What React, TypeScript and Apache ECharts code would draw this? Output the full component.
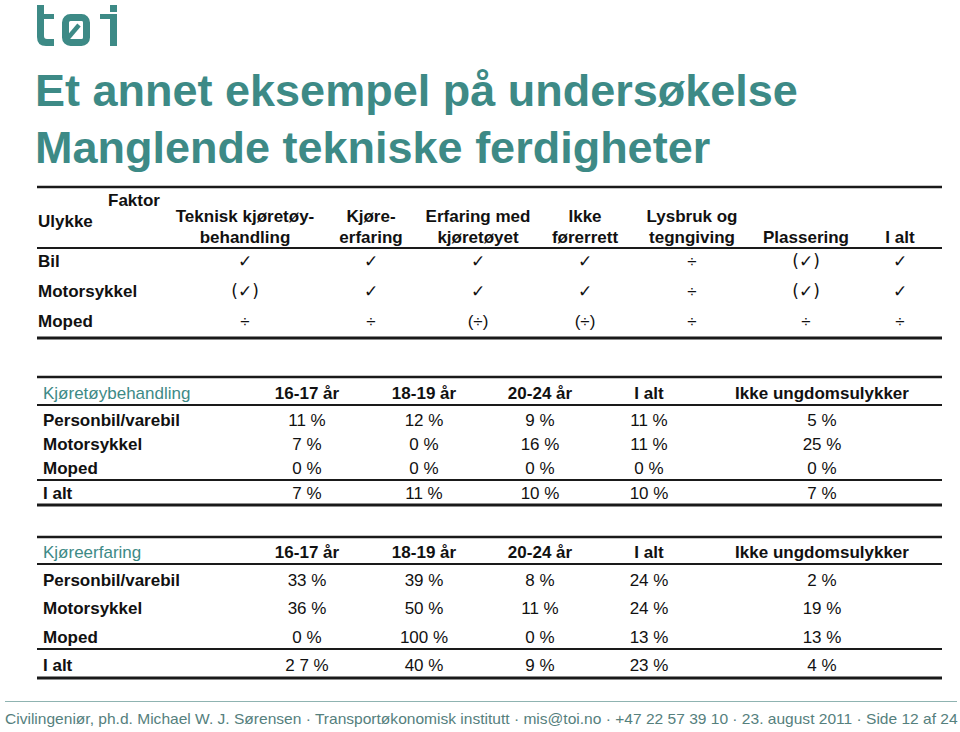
import React, { useEffect, useRef } from "react";
import * as echarts from "echarts";

// ---------- Data ----------
const titleLines = ["Et annet eksempel på undersøkelse", "Manglende tekniske ferdigheter"];

const factorHeaders: string[][] = [
  ["Teknisk kjøretøy-", "behandling"],
  ["Kjøre-", "erfaring"],
  ["Erfaring med", "kjøretøyet"],
  ["Ikke", "førerrett"],
  ["Lysbruk og", "tegngiving"],
  ["Plassering"],
  ["I alt"],
];
const accidentTypes = ["Bil", "Motorsykkel", "Moped"];
const bilMarks = ["✓", "✓", "✓", "✓", "÷", "(✓)", "✓"];
const motorsykkelMarks = ["(✓)", "✓", "✓", "✓", "÷", "(✓)", "✓"];
const mopedMarks = ["÷", "÷", "(÷)", "(÷)", "÷", "÷", "÷"];

const ageGroups = ["16-17 år", "18-19 år", "20-24 år", "I alt", "Ikke ungdomsulykker"];
const vehicleRows = ["Personbil/varebil", "Motorsykkel", "Moped", "I alt"];

const behandlingPersonbil = [11, 12, 9, 11, 5];
const behandlingMotorsykkel = [7, 0, 16, 11, 25];
const behandlingMoped = [0, 0, 0, 0, 0];
const behandlingIalt = [7, 11, 10, 10, 7];

const erfaringPersonbil = [33, 39, 8, 24, 2];
const erfaringMotorsykkel = [36, 50, 11, 24, 19];
const erfaringMoped = [0, 100, 0, 13, 13];
const erfaringIalt = [27, 40, 9, 23, 4];
// the source slide prints the first "I alt" value of Kjøreerfaring as "2 7 %"
const erfaringIaltLabels = ["2 7 %", null, null, null, null];

const footerText =
  "Civilingeniør, ph.d. Michael W. J. Sørensen · Transportøkonomisk institutt · mis@toi.no · +47 22 57 39 10 · 23. august 2011 · Side 12 af 24";

// ---------- Styles ----------
const TEAL = "#3d8a86";
const FONT = "'Liberation Sans', Arial, Helvetica, sans-serif";
const INK = "#111111";

export default function App() {
  const ref = useRef<HTMLDivElement>(null);

  useEffect(() => {
    if (!ref.current) return;
    const chart = echarts.init(ref.current, undefined, { renderer: "svg" });

    echarts.graphic.registerShape(
      "toiT",
      echarts.graphic.extendPath(
        "M0 0 H7 V9 H17 V14 H7 V31 Q7 34 10 34 H17 V41 H9 Q0 41 0 32 Z",
        {}
      )
    );
    echarts.graphic.registerShape(
      "toiI",
      echarts.graphic.extendPath("M0 9 H17 V41 H10 V14 H0 Z M10 0 H17 V7 H10 Z", {})
    );

    const els: any[] = [];
    const text = (
      x: number,
      y: number,
      t: string,
      opts: { size?: number; bold?: boolean; align?: string; fill?: string; family?: string } = {}
    ) => {
      els.push({
        type: "text",
        x,
        y,
        style: {
          text: t,
          fill: opts.fill || INK,
          font: `${opts.bold ? "bold " : ""}${opts.size || 17}px ${opts.family || FONT}`,
          textAlign: opts.align || "left",
          textVerticalAlign: "middle",
        },
      });
    };
    const hline = (y: number, x1: number, x2: number, w: number, color = "#1a1a1a") => {
      els.push({
        type: "line",
        shape: { x1, y1: y, x2, y2: y },
        style: { stroke: color, lineWidth: w },
      });
    };

    // ----- Logo -----
    els.push({ type: "toiT", x: 37, y: 5, style: { fill: TEAL } });
    els.push({
      type: "rect",
      shape: { x: 65.5, y: 17.5, width: 21, height: 25, r: 5 },
      style: { fill: "none", stroke: TEAL, lineWidth: 7 },
    });
    els.push({
      type: "line",
      shape: { x1: 68, y1: 38, x2: 79, y2: 25 },
      style: { stroke: TEAL, lineWidth: 4.5 },
    });
    els.push({ type: "toiI", x: 100, y: 5, style: { fill: TEAL } });

    // ----- Title -----
    titleLines.forEach((t, i) => text(35, 90 + i * 57, t, { size: 45, bold: true, fill: TEAL }));

    // ----- Table 1 -----
    const X1 = 37, X2 = 942;
    const t1Cols = [245, 371, 478, 585, 692, 806, 900];
    hline(187, X1, X2, 2.5);
    text(160, 200, "Faktor", { bold: true, align: "right" });
    text(38, 221, "Ulykke", { bold: true });
    factorHeaders.forEach((lines, c) => {
      if (lines.length === 2) {
        text(t1Cols[c], 216, lines[0], { bold: true, align: "center" });
        text(t1Cols[c], 237, lines[1], { bold: true, align: "center" });
      } else {
        text(t1Cols[c], 237, lines[0], { bold: true, align: "center" });
      }
    });
    hline(248, X1, X2, 2);
    const markRows = [bilMarks, motorsykkelMarks, mopedMarks];
    const t1RowY = [261, 291, 321];
    accidentTypes.forEach((name, r) => {
      text(38, t1RowY[r], name, { bold: true });
      markRows[r].forEach((m, c) => {
        const isCheck = m.indexOf("✓") >= 0;
        text(t1Cols[c], t1RowY[r], m, {
          size: 17,
          align: "center",
          family: isCheck ? "'DejaVu Sans', sans-serif" : FONT,
        });
      });
    });
    hline(338, X1, X2, 3);

    // ----- Tables 2 & 3 -----
    const ageCols = [307, 424, 540, 649, 822];
    const drawPctTable = (
      top: number,
      title: string,
      rows: number[][],
      rowY: number[],
      headerY: number,
      headerLine: number,
      sepLine: number,
      bottom: number,
      overrides: (string | null)[][]
    ) => {
      hline(top, X1, X2, 2.5);
      text(43, headerY, title, { fill: TEAL });
      ageGroups.forEach((g, c) => text(ageCols[c], headerY, g, { bold: true, align: "center" }));
      hline(headerLine, X1, X2, 2);
      vehicleRows.forEach((name, r) => {
        text(43, rowY[r], name, { bold: true });
        rows[r].forEach((v, c) => {
          const lab = overrides[r][c];
          text(ageCols[c], rowY[r], lab != null ? lab : `${v} %`, { align: "center" });
        });
      });
      hline(sepLine, X1, X2, 2);
      hline(bottom, X1, X2, 3);
    };
    const none = [null, null, null, null, null];
    drawPctTable(
      377,
      "Kjøretøybehandling",
      [behandlingPersonbil, behandlingMotorsykkel, behandlingMoped, behandlingIalt],
      [420, 444, 468, 493],
      393,
      405,
      480,
      505,
      [none, none, none, none]
    );
    drawPctTable(
      537,
      "Kjøreerfaring",
      [erfaringPersonbil, erfaringMotorsykkel, erfaringMoped, erfaringIalt],
      [580, 608, 637, 665],
      552,
      564,
      649,
      678,
      [none, none, none, erfaringIaltLabels]
    );

    // ----- Footer -----
    hline(701.5, 5, 957, 1, "#8fb3b1");
    text(5, 718, footerText, { size: 15.55, fill: "#55807d" });

    chart.setOption({
      animation: false,
      backgroundColor: "#ffffff",
      graphic: { elements: els },
    });

    return () => chart.dispose();
  }, []);

  return (
    <div
      ref={ref}
      style={{ position: "fixed", left: 0, top: 0, width: 960, height: 732, background: "#fff" }}
    />
  );
}
